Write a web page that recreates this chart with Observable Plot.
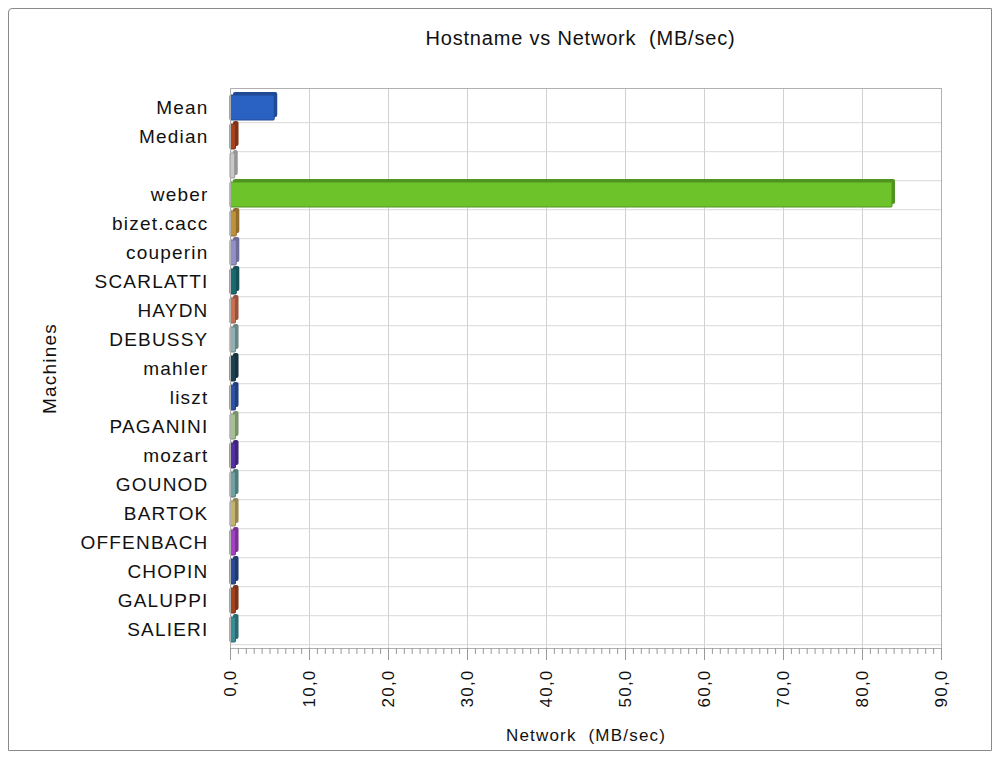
<!DOCTYPE html>
<html>
<head>
<meta charset="utf-8">
<script src="https://cdn.jsdelivr.net/npm/d3@7"></script>
<script src="https://cdn.jsdelivr.net/npm/@observablehq/plot@0.6"></script>
<style>
  body { margin: 0; background: #ffffff; font-family: "Liberation Sans", Arial, sans-serif; }
  #wrap { position: relative; width: 1001px; height: 758px; overflow: hidden; }
  #frame { position: absolute; left: 8px; top: 8px; width: 984px; height: 743px; border: 1px solid #8a8a8a; border-radius: 4px 0 0 0; box-sizing: border-box; }
  #title { position: absolute; left: 0; top: 27px; width: 1001px; padding-left: 160px; box-sizing: border-box; text-align: center; font-size: 20px; letter-spacing: 0.8px; color: #111; white-space: pre; }
  #chart { position: absolute; left: 0; top: 0; }
  #chart svg text { letter-spacing: 1.2px; }
</style>
</head>
<body>
<div id="wrap">
  <div id="frame"></div>
  <div id="chart"></div>
  <div id="title">Hostname vs Network  (MB/sec)</div>
</div>
<script>
const machines = ["Mean","Median"," ","weber","bizet.cacc","couperin","SCARLATTI","HAYDN","DEBUSSY","mahler","liszt","PAGANINI","mozart","GOUNOD","BARTOK","OFFENBACH","CHOPIN","GALUPPI","SALIERI"];
const values = [5.6, 0.7, 0.6, 83.8, 0.8, 0.8, 0.8, 0.7, 0.7, 0.7, 0.7, 0.7, 0.7, 0.7, 0.7, 0.7, 0.7, 0.7, 0.7];
const colors = ["#2a62c4","#a8421c","#c8c8c8","#6cc42a","#c0903c","#9290c8","#1a6a72","#c87050","#8eb0b0","#1c4252","#2c52a6","#a2c290","#5230a2","#6ea2a2","#c4b26e","#a442c4","#2a4c94","#a4421e","#3a8c94"];
const xTicks = [0,10,20,30,40,50,60,70,80,90];
const minorTicks = d3.range(0, 91, 1);

const data = machines.map((m, i) => ({machine: m, value: values[i], color: colors[i]}));

const darker = c => d3.color(c).darker(0.8).formatHex();

const chart = Plot.plot({
  width: 1001,
  height: 758,
  marginLeft: 230,
  marginRight: 60,
  marginTop: 88,
  marginBottom: 110,
  style: {fontFamily: "'Liberation Sans', Arial, sans-serif", fontSize: "18px", color: "#111", background: "transparent"},
  x: {domain: [0, 90]},
  y: {domain: machines, padding: 0.14},
  marks: [
    Plot.ruleX(xTicks, {stroke: "#d0d0d0", strokeWidth: 1}),
    Plot.ruleY(machines, {y: d => d, dy: 14.7, stroke: "#d8d8d8"}),
    // depth face (3D look)
    Plot.barX(data, {y: "machine", x: "value", fill: d => darker(d.color), dx: 3, dy: -3, rx: 2}),
    Plot.barX(data, {y: "machine", x: "value", fill: "color", stroke: d => darker(d.color), strokeWidth: 1, rx: 1}),
    Plot.frame({stroke: "#b0b0b0"}),
    Plot.axisX(minorTicks, {tickSize: 6, stroke: "#999", tickFormat: () => "", label: null}),
    Plot.axisX(xTicks, {
      tickSize: 12, tickPadding: 9, tickRotate: -90, stroke: "#999",
      tickFormat: d => d3.format(".1f")(d).replace(".", ","),
      fontSize: 17,
      label: "Network\u00a0\u00a0(MB/sec)", labelAnchor: "center", labelOffset: 92, labelArrow: false
    }),
    Plot.axisY(machines, {
      tickSize: 0, tickPadding: 22, fontSize: 19,
      label: "Machines", labelAnchor: "center", labelOffset: 188, labelArrow: false
    })
  ]
});
document.getElementById("chart").appendChild(chart);
</script>
</body>
</html>
